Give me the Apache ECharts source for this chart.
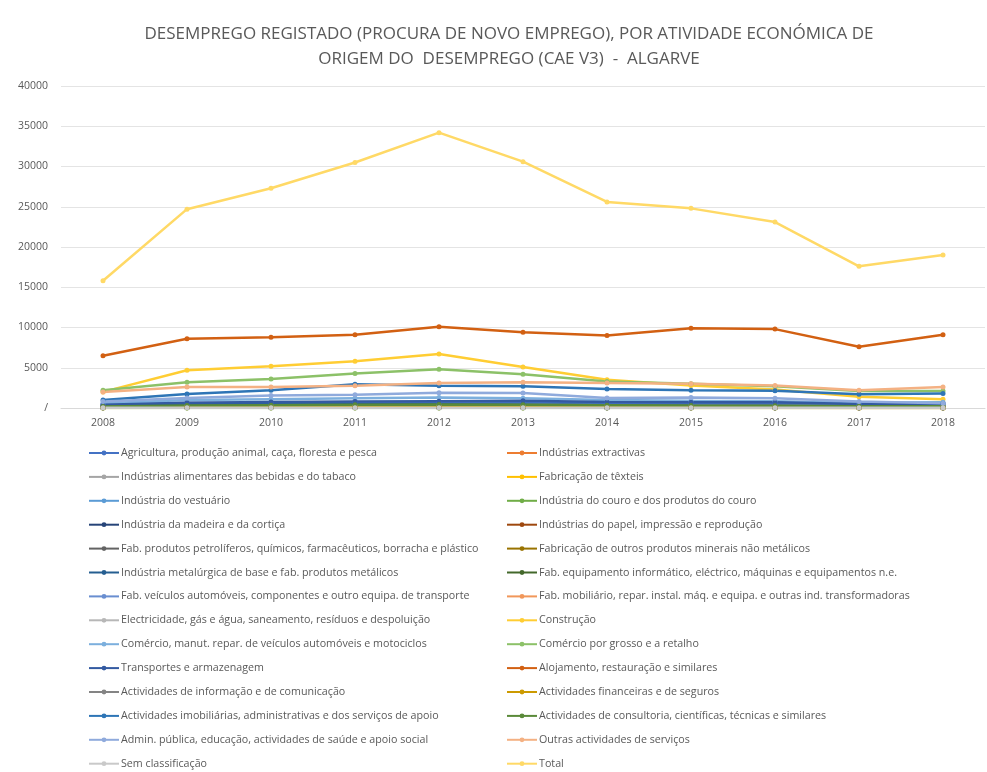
<!DOCTYPE html>
<html>
<head>
<meta charset="utf-8">
<script src="https://cdn.jsdelivr.net/npm/echarts@6/dist/echarts.min.js"></script>
<style>
html,body{margin:0;padding:0;background:#fff;}
#chart{width:987px;height:772px;}
</style>
</head>
<body>
<div id="chart"></div>
<script>
const years = ['2008','2009','2010','2011','2012','2013','2014','2015','2016','2017','2018'];
const yTicks = [0, 5000, 10000, 15000, 20000, 25000, 30000, 35000, 40000];

const agricultura   = [450, 620, 650, 700, 720, 700, 600, 550, 500, 380, 400];
const extractivas   = [20, 30, 30, 30, 35, 30, 25, 20, 20, 15, 15];
const alimentares   = [250, 330, 350, 380, 400, 380, 330, 300, 280, 220, 230];
const texteis       = [15, 20, 20, 20, 25, 20, 20, 15, 15, 10, 10];
const vestuario     = [30, 40, 40, 45, 45, 40, 35, 30, 30, 25, 25];
const couro         = [5, 5, 5, 5, 5, 5, 5, 5, 5, 5, 5];
const madeira       = [60, 90, 90, 90, 80, 70, 60, 50, 45, 35, 35];
const papel         = [40, 50, 55, 55, 55, 50, 45, 40, 35, 30, 30];
const petroliferos  = [40, 60, 60, 60, 60, 55, 45, 40, 35, 30, 30];
const minerais      = [120, 200, 200, 210, 200, 180, 150, 120, 100, 80, 80];
const metalurgica   = [250, 420, 450, 480, 470, 430, 350, 300, 270, 200, 200];
const equipamento   = [60, 100, 110, 110, 110, 100, 85, 70, 65, 50, 50];
const veiculos      = [40, 60, 60, 65, 60, 55, 45, 40, 35, 30, 30];
const mobiliario    = [150, 230, 250, 260, 260, 240, 200, 170, 150, 120, 120];
const electricidade = [80, 110, 120, 130, 140, 140, 130, 120, 110, 90, 90];
const construcao    = [2000, 4700, 5200, 5800, 6700, 5100, 3500, 2800, 2300, 1400, 1100];
const comercioManut = [600, 1000, 1100, 1200, 1300, 1200, 1000, 900, 850, 650, 700];
const comercioGrosso= [2200, 3200, 3600, 4300, 4800, 4200, 3300, 3000, 2700, 2100, 2100];
const transportes   = [400, 650, 750, 800, 850, 900, 750, 700, 700, 500, 550];
const alojamento    = [6500, 8600, 8800, 9100, 10100, 9400, 9000, 9900, 9800, 7600, 9100];
const informacao    = [100, 150, 170, 180, 190, 180, 160, 140, 130, 100, 100];
const financeiras   = [80, 110, 130, 140, 160, 170, 160, 140, 120, 90, 90];
const imobiliarias  = [1000, 1750, 2200, 2950, 2750, 2700, 2350, 2200, 2150, 1700, 1800];
const consultoria   = [200, 300, 350, 400, 420, 400, 350, 300, 280, 220, 220];
const admin         = [800, 1250, 1550, 1650, 1900, 1850, 1250, 1300, 1200, 800, 600];
const outras        = [2000, 2600, 2600, 2750, 3100, 3200, 3100, 3000, 2800, 2200, 2600];
const semClass      = [30, 30, 30, 30, 30, 30, 30, 30, 30, 30, 30];
const total         = [15800, 24700, 27300, 30500, 34200, 30600, 25600, 24800, 23100, 17600, 19000];

const seriesNames = [
  'Agricultura, produção animal, caça, floresta e pesca',
  'Indústrias extractivas',
  'Indústrias alimentares das bebidas e do tabaco',
  'Fabricação de têxteis',
  'Indústria do vestuário',
  'Indústria do couro e dos produtos do couro',
  'Indústria da madeira e da cortiça',
  'Indústrias do papel, impressão e reprodução',
  'Fab. produtos petrolíferos, químicos, farmacêuticos, borracha e plástico',
  'Fabricação de outros produtos minerais não metálicos',
  'Indústria metalúrgica de base e fab. produtos metálicos',
  'Fab. equipamento informático, eléctrico, máquinas e equipamentos n.e.',
  'Fab. veículos automóveis, componentes e outro equipa. de transporte',
  'Fab. mobiliário, repar. instal. máq. e equipa. e outras ind. transformadoras',
  'Electricidade, gás e água, saneamento, resíduos e despoluição',
  'Construção',
  'Comércio, manut. repar. de veículos automóveis e motociclos',
  'Comércio por grosso e a retalho',
  'Transportes e armazenagem',
  'Alojamento, restauração e similares',
  'Actividades de informação e de comunicação',
  'Actividades financeiras e de seguros',
  'Actividades imobiliárias, administrativas e dos serviços de apoio',
  'Actividades de consultoria, científicas, técnicas e similares',
  'Admin. pública, educação, actividades de saúde e apoio social',
  'Outras actividades de serviços',
  'Sem classificação',
  'Total'
];
const seriesValues = [agricultura, extractivas, alimentares, texteis, vestuario, couro, madeira, papel,
  petroliferos, minerais, metalurgica, equipamento, veiculos, mobiliario, electricidade, construcao,
  comercioManut, comercioGrosso, transportes, alojamento, informacao, financeiras, imobiliarias,
  consultoria, admin, outras, semClass, total];
const colors = ['#4472C4','#ED7D31','#A5A5A5','#FFC000','#5B9BD5','#70AD47','#264478','#9E480E',
  '#636363','#997300','#255E91','#43682B','#698ED0','#F1975A','#B7B7B7','#FFCD33',
  '#7CAFDD','#8CC168','#335AA1','#D26012','#848484','#CC9A00','#2E75B6','#5A8A39',
  '#8FAADC','#F4B183','#C9C9C9','#FFD966'];

const chart = echarts.init(document.getElementById('chart'));
const textCol = '#595959';
const fontFam = '"Open Sans", "Noto Sans", sans-serif';

const series = seriesNames.map((n, i) => ({
  name: n,
  type: 'line',
  data: seriesValues[i],
  symbol: 'circle',
  symbolSize: 5,
  lineStyle: { width: 2.5, color: colors[i] },
  itemStyle: { color: colors[i] },
  animation: false
}));

const leftNames = seriesNames.filter((_, i) => i % 2 === 0);
const rightNames = seriesNames.filter((_, i) => i % 2 === 1);
const legendCommon = {
  orient: 'vertical',
  top: 446,
  padding: 0,
  itemWidth: 30,
  itemHeight: 6,
  itemGap: 9.9,
  textStyle: { color: textCol, fontSize: 10.7, fontFamily: fontFam, lineHeight: 14, padding: [0, 0, 0, -3] }
};

chart.setOption({
  backgroundColor: '#fff',
  color: colors,
  title: {
    text: 'DESEMPREGO REGISTADO (PROCURA DE NOVO EMPREGO), POR ATIVIDADE ECONÓMICA DE\nORIGEM DO  DESEMPREGO (CAE V3)  -  ALGARVE',
    left: 504,
    top: 17,
    textAlign: 'center',
    textStyle: { color: textCol, fontSize: 17, fontWeight: 'normal', fontFamily: fontFam, lineHeight: 25 }
  },
  grid: { left: 61, right: 2, top: 86, bottom: 364, containLabel: false },
  xAxis: {
    type: 'category',
    data: years,
    boundaryGap: true,
    axisLine: { lineStyle: { color: '#d9d9d9' } },
    axisTick: { show: false },
    axisLabel: { color: textCol, fontSize: 10.5, fontFamily: fontFam, margin: 10 }
  },
  yAxis: {
    type: 'value',
    min: yTicks[0],
    max: yTicks[yTicks.length - 1],
    interval: yTicks[1] - yTicks[0],
    axisLine: { show: false },
    axisTick: { show: false },
    splitLine: { lineStyle: { color: '#e4e4e4' } },
    axisLabel: {
      color: textCol, fontSize: 10.5, fontFamily: fontFam, margin: 13,
      formatter: v => (v === 0 ? '/' : String(v))
    }
  },
  legend: [
    Object.assign({}, legendCommon, { left: 88, data: leftNames }),
    Object.assign({}, legendCommon, { left: 506, data: rightNames })
  ],
  series: series
});
</script>
</body>
</html>
